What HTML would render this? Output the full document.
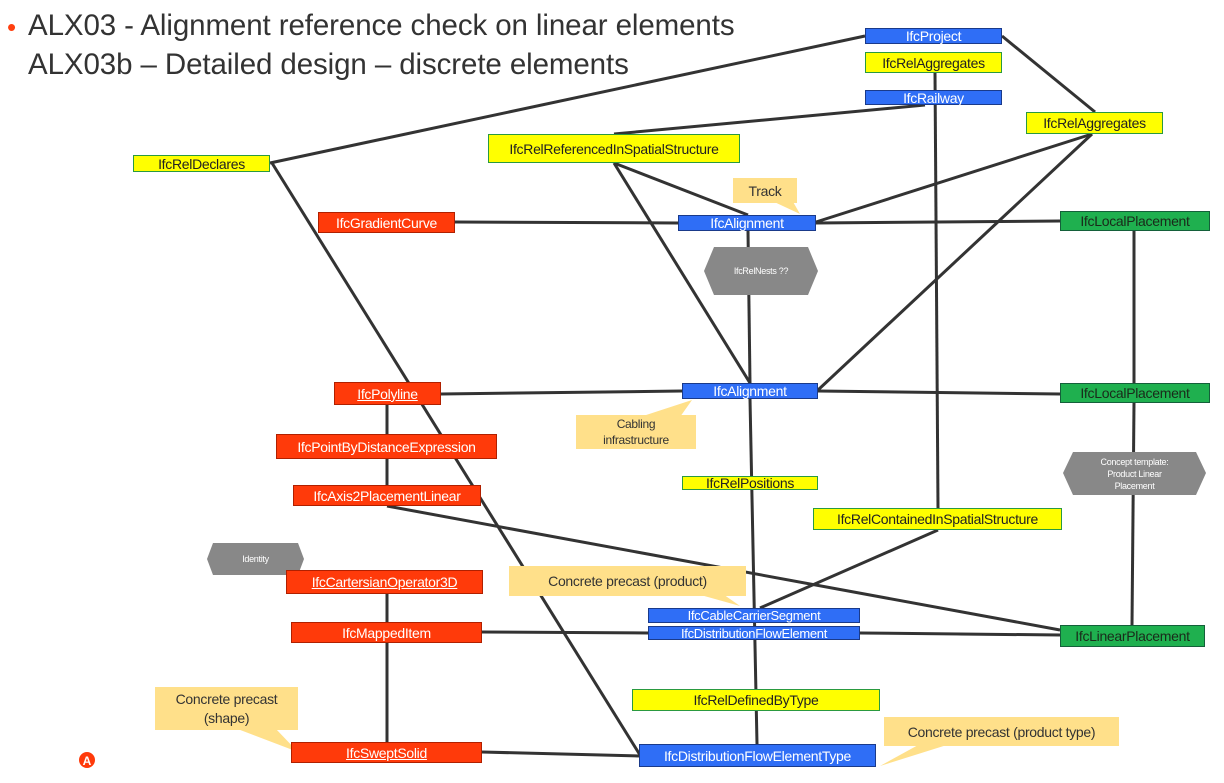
<!DOCTYPE html>
<html><head><meta charset="utf-8"><style>
body{margin:0;width:1224px;height:783px;background:#fff;position:relative;overflow:hidden;font-family:"Liberation Sans",sans-serif}
.n{position:absolute;box-sizing:border-box;display:flex;align-items:center;justify-content:center;font-size:14px;white-space:nowrap;letter-spacing:-0.3px}
.b{background:#2f6ef6;border:1px solid #1a3a8a;color:#fff}
.r{background:#ff3a0a;border:1px solid #b02000;color:#fff}
.g{background:#1fb04f;border:1px solid #14603a;color:#1a2a1a}
.y{background:#ffff00;border:1px solid #2a9a40;color:#222}
.c{background:#ffe08a;color:#333;text-align:center;line-height:16px}
.u{text-decoration:underline}
.h{color:#fff;font-size:9px;text-align:center;line-height:12px}
svg{position:absolute;left:0;top:0}
</style></head><body>
<div style="position:absolute;left:7px;top:14px;color:#ff4010;font-size:26px;line-height:26px">•</div>
<div style="position:absolute;left:28px;top:6px;font-size:29.5px;color:#333;line-height:39px;letter-spacing:-0.1px">ALX03 - Alignment reference check on linear elements<br>ALX03b – Detailed design – discrete elements</div>
<svg width="1224" height="783">
<g stroke="#333" stroke-width="3" fill="none">
<line x1="270" y1="163" x2="865" y2="36"/>
<line x1="272" y1="163" x2="640" y2="755"/>
<line x1="1002" y1="36" x2="1095" y2="112"/>
<line x1="935" y1="73" x2="938" y2="508"/>
<line x1="614" y1="134" x2="925" y2="105"/>
<line x1="614" y1="163" x2="748" y2="215"/>
<line x1="614" y1="163" x2="750" y2="383"/>
<line x1="1092" y1="134" x2="816" y2="222"/>
<line x1="1092" y1="134" x2="818" y2="390"/>
<line x1="455" y1="222" x2="678" y2="223"/>
<line x1="816" y1="223" x2="1060" y2="221"/>
<line x1="748" y1="231" x2="750" y2="383"/>
<line x1="1134" y1="231" x2="1134" y2="383"/>
<line x1="1134" y1="403" x2="1132" y2="625"/>
<line x1="441" y1="394" x2="682" y2="391"/>
<line x1="818" y1="391" x2="1060" y2="394"/>
<line x1="387" y1="405" x2="387" y2="485"/>
<line x1="387" y1="506" x2="1060" y2="630"/>
<line x1="750" y1="399" x2="757" y2="744"/>
<line x1="938" y1="530" x2="760" y2="608"/>
<line x1="482" y1="632" x2="648" y2="633"/>
<line x1="860" y1="633" x2="1060" y2="635"/>
<line x1="387" y1="594" x2="387" y2="742"/>
<line x1="482" y1="752" x2="639" y2="756"/>
</g>
<g fill="#ffe08a">
<polygon points="770,200 792,200 800,214"/>
<polygon points="640,417 680,417 692,400"/>
<polygon points="690,592 720,592 740,606"/>
<polygon points="235,728 275,728 298,752"/>
<polygon points="920,744 950,744 880,766"/>
</g>
<g fill="#888">
<polygon points="714,247 808,247 818,271 808,295 714,295 704,271"/>
<polygon points="1073,452 1196,452 1206,473 1196,495 1073,495 1063,473"/>
<polygon points="213,543 298,543 304,559 298,575 213,575 207,559"/>
</g>
<circle cx="87" cy="760" r="8" fill="#ff3a0a"/>
<text x="87" y="765" font-size="12" font-weight="bold" fill="#fff" text-anchor="middle" font-family="Liberation Sans">A</text>
</svg>
<div class="n b" style="left:865px;top:28px;width:137px;height:16px">IfcProject</div>
<div class="n y" style="left:865px;top:52px;width:137px;height:21px">IfcRelAggregates</div>
<div class="n b" style="left:865px;top:90px;width:137px;height:15px">IfcRailway</div>
<div class="n y" style="left:1026px;top:112px;width:137px;height:22px">IfcRelAggregates</div>
<div class="n y" style="left:133px;top:155px;width:137px;height:17px">IfcRelDeclares</div>
<div class="n y" style="left:488px;top:134px;width:252px;height:29px">IfcRelReferencedInSpatialStructure</div>
<div class="n c" style="left:733px;top:178px;width:64px;height:25px">Track</div>
<div class="n r" style="left:318px;top:212px;width:137px;height:21px">IfcGradientCurve</div>
<div class="n b" style="left:678px;top:215px;width:138px;height:16px">IfcAlignment</div>
<div class="n g" style="left:1060px;top:211px;width:150px;height:20px">IfcLocalPlacement</div>
<div class="n h" style="left:704px;top:263px;width:114px;height:16px">IfcRelNests ??</div>
<div class="n r u" style="left:334px;top:382px;width:107px;height:23px">IfcPolyline</div>
<div class="n b" style="left:682px;top:383px;width:136px;height:16px">IfcAlignment</div>
<div class="n g" style="left:1060px;top:383px;width:150px;height:20px">IfcLocalPlacement</div>
<div class="n c" style="left:576px;top:415px;width:120px;height:34px;font-size:12px">Cabling<br>infrastructure</div>
<div class="n r" style="left:276px;top:434px;width:221px;height:25px">IfcPointByDistanceExpression</div>
<div class="n r" style="left:293px;top:485px;width:188px;height:21px">IfcAxis2PlacementLinear</div>
<div class="n y" style="left:682px;top:476px;width:136px;height:14px">IfcRelPositions</div>
<div class="n h" style="left:1063px;top:455px;width:143px;height:38px">Concept template:<br>Product Linear<br>Placement</div>
<div class="n y" style="left:813px;top:508px;width:249px;height:22px">IfcRelContainedInSpatialStructure</div>
<div class="n h" style="left:207px;top:552px;width:97px;height:14px">Identity</div>
<div class="n r u" style="left:286px;top:570px;width:197px;height:24px">IfcCartersianOperator3D</div>
<div class="n c" style="left:509px;top:566px;width:237px;height:30px;font-size:14px">Concrete precast (product)</div>
<div class="n b" style="left:648px;top:608px;width:212px;height:15px;font-size:13px">IfcCableCarrierSegment</div>
<div class="n b" style="left:648px;top:626px;width:212px;height:14px;font-size:13px">IfcDistributionFlowElement</div>
<div class="n g" style="left:1060px;top:625px;width:145px;height:22px">IfcLinearPlacement</div>
<div class="n r" style="left:291px;top:622px;width:191px;height:21px">IfcMappedItem</div>
<div class="n y" style="left:632px;top:689px;width:248px;height:22px">IfcRelDefinedByType</div>
<div class="n c" style="left:155px;top:687px;width:143px;height:43px;font-size:14px;line-height:19px">Concrete precast<br>(shape)</div>
<div class="n r u" style="left:291px;top:742px;width:191px;height:21px">IfcSweptSolid</div>
<div class="n b" style="left:639px;top:744px;width:237px;height:23px">IfcDistributionFlowElementType</div>
<div class="n c" style="left:884px;top:717px;width:235px;height:29px;font-size:14px">Concrete precast (product type)</div>
</body></html>
